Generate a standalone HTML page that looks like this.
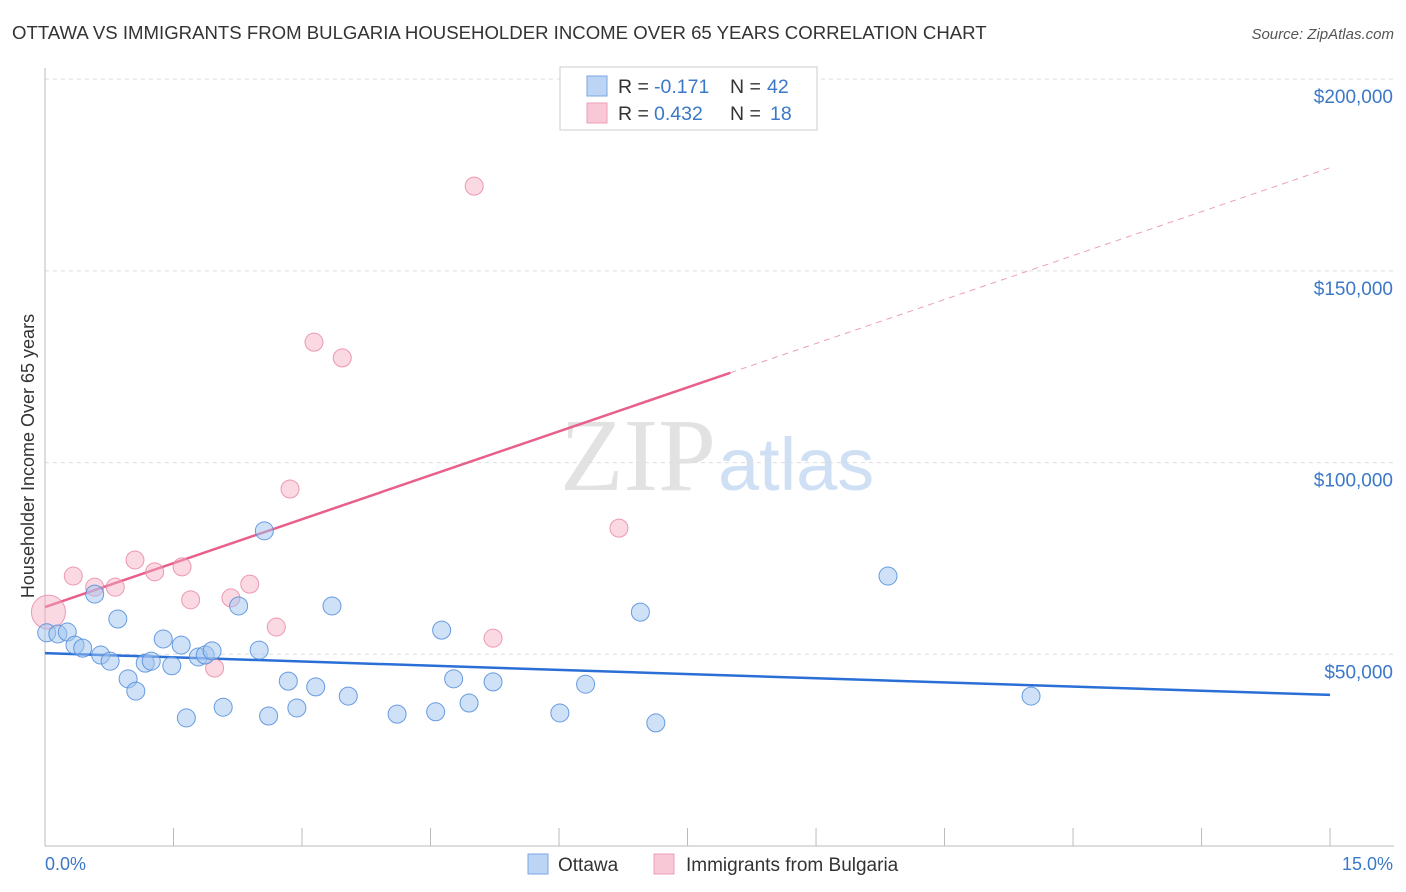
<!DOCTYPE html>
<html><head><meta charset="utf-8"><style>
body{margin:0;background:#fff;font-family:"Liberation Sans",sans-serif;}
svg{display:block}
</style></head><body>
<svg id="chart" width="1406" height="892">
<text x="12" y="39" font-size="18.6" fill="#333">OTTAWA VS IMMIGRANTS FROM BULGARIA HOUSEHOLDER INCOME OVER 65 YEARS CORRELATION CHART</text>
<text x="1394" y="39" font-size="15" fill="#555" font-style="italic" text-anchor="end">Source: ZipAtlas.com</text>
<text x="716" y="490" font-size="104" fill="#e2e2e2" text-anchor="end" font-family="Liberation Serif">ZIP</text>
<text x="718" y="490" font-size="74" fill="#cfe0f5">atlas</text>
<g id="grid"></g><g id="axes"></g><g id="lines"></g><g id="pts"></g>
<text transform="translate(34,456) rotate(-90)" font-size="18" fill="#333" text-anchor="middle">Householder Income Over 65 years</text>
<text x="45" y="870" font-size="18" fill="#3b78c8">0.0%</text>
<text x="1393" y="870" font-size="18" fill="#3b78c8" text-anchor="end">15.0%</text>
<g>
<rect x="560" y="67" width="257" height="63" fill="#fff" stroke="#ccc"/>
<rect x="587" y="76" width="20" height="20" fill="#bcd5f5" stroke="#7aa6e0"/>
<rect x="587" y="103" width="20" height="20" fill="#f9c8d6" stroke="#eba0b6"/>
<text x="618" y="93" font-size="19.5" fill="#333">R = <tspan x="654" fill="#3b78c8">-0.171</tspan><tspan x="730">N = </tspan><tspan x="767" fill="#3b78c8">42</tspan></text>
<text x="618" y="120" font-size="19.5" fill="#333">R = <tspan x="654" fill="#3b78c8">0.432</tspan><tspan x="730">N = </tspan><tspan x="770" fill="#3b78c8">18</tspan></text>
</g>
<g>
<rect x="528" y="854" width="20" height="20" fill="#bcd5f5" stroke="#7aa6e0"/>
<text x="558" y="871" font-size="19" fill="#333">Ottawa</text>
<rect x="654" y="854" width="20" height="20" fill="#f9c8d6" stroke="#eba0b6"/>
<text x="686" y="871" font-size="19" fill="#333">Immigrants from Bulgaria</text>
</g>
</svg>
<script>
const yTicks=[50000,100000,150000,200000];
const yTickLabels=["$50,000","$100,000","$150,000","$200,000"];
const ottawaX=[0.02,0.15,0.26,0.35,0.44,0.58,0.65,0.76,0.85,0.97,1.06,1.17,1.24,1.38,1.48,1.59,1.65,1.79,1.87,1.95,2.08,2.26,2.50,2.56,2.61,2.84,2.94,3.16,3.35,3.54,4.11,4.56,4.63,4.77,4.95,5.23,6.01,6.31,6.95,7.13,9.84,11.51];
const ottawaY=[55600,55300,55800,52400,51600,65700,49800,48200,59200,43600,40400,47700,48200,54000,47000,52400,33400,49300,49800,50900,36200,62600,51100,82200,33900,43000,36000,41500,62600,39100,34400,35000,56300,43600,37300,42800,34700,42200,61000,32100,70400,39100];
const bulgX=[0.04,0.33,0.58,0.82,1.05,1.28,1.60,1.70,1.98,2.17,2.39,2.70,2.86,3.14,3.47,5.01,5.23,6.70];
const bulgY=[61000,70400,67500,67500,74600,71500,72800,64200,46400,64700,68300,57100,93100,131400,127300,172100,54200,82900];
const ottawaTrend=[50300,39400];
const bulgTrend=[62300,176900];
const bulgSolidEnd=8.0;
const X=v=>45+v*85.67, Y=v=>846-v/260.8;
const NS="http://www.w3.org/2000/svg";
function mk(t,a,p){const e=document.createElementNS(NS,t);for(const k in a)e.setAttribute(k,a[k]);p.appendChild(e);return e;}
const grid=document.getElementById('grid'),axes=document.getElementById('axes'),lines=document.getElementById('lines'),pts=document.getElementById('pts');
yTicks.forEach((t,i)=>{
 const l=mk('line',{x1:45,x2:1394,y1:Y(t),y2:Y(t),stroke:'#ddd','stroke-dasharray':'4,4'},grid);
 
 
 const tx=mk('text',{x:1393,y:Y(t)+24,'font-size':19,fill:'#3b78c8','text-anchor':'end'},grid);
 tx.textContent=yTickLabels[i];
 
 
});
mk('line',{x1:45,x2:45,y1:68,y2:846,stroke:'#bbb'},axes);
mk('line',{x1:45,x2:1394,y1:846,y2:846,stroke:'#bbb'},axes);
for(let i=0;i<=10;i++){const x=X(i*1.5);
 const tk=mk('line',{x1:x,x2:x,y1:828,y2:846,stroke:'#bbb'},axes);
 
 }
const tb=t=>bulgTrend[0]+(bulgTrend[1]-bulgTrend[0])*t/15;
const l1=mk('line',{x1:X(0),y1:Y(ottawaTrend[0]),x2:X(15),y2:Y(ottawaTrend[1]),stroke:'#2a6fd6','stroke-width':2.5},lines);


const l2=mk('line',{x1:X(0),y1:Y(tb(0)),x2:X(bulgSolidEnd),y2:Y(tb(bulgSolidEnd)),stroke:'#e8608a','stroke-width':2.5},lines);


const l3=mk('line',{x1:X(bulgSolidEnd),y1:Y(tb(bulgSolidEnd)),x2:X(15),y2:Y(tb(15)),stroke:'#eba0b6','stroke-width':1,'stroke-dasharray':'6,5'},lines);


bulgX.forEach((x,i)=>{
 const c=mk('circle',{cx:X(x),cy:Y(bulgY[i]),r:i==0?17:9,fill:'rgba(245,170,192,0.45)',stroke:'rgba(232,130,160,0.8)','stroke-width':1},pts);
 
 
});
ottawaX.forEach((x,i)=>{
 const c=mk('circle',{cx:X(x),cy:Y(ottawaY[i]),r:9,fill:'rgba(160,196,240,0.5)',stroke:'rgba(80,140,220,0.85)','stroke-width':1},pts);
 
 
});
</script>
</body></html>
